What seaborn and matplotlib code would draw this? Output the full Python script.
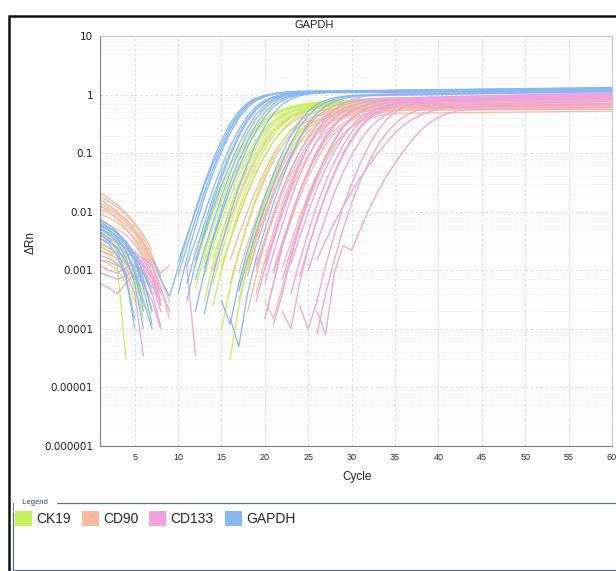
import numpy as np
import pandas as pd
import seaborn as sns
import matplotlib.pyplot as plt
from matplotlib.patches import Patch, Rectangle
from matplotlib.ticker import FixedLocator, LogLocator, NullFormatter

targets = ["CK19", "CD90", "CD133", "GAPDH"]
colors = ["#c8ef5c", "#f8b9a0", "#efa2de", "#88b8f2"]

ytick_vals = [1e-6, 1e-5, 1e-4, 1e-3, 1e-2, 1e-1, 1, 10]
ytick_labels = ["0.000001", "0.00001", "0.0001", "0.001", "0.01", "0.1", "1", "10"]

# early cycles (cycle 1 onwards), before the baseline-corrected signal drops below zero
ck19_base = [
    [0.004, 0.0032, 0.0024, 0.0015, 0.0008, 0.0003],
    [0.003, 0.0025, 0.0018, 0.0011, 0.0005, 0.00015],
    [0.005, 0.004, 0.003, 0.0019, 0.001, 0.0004],
    [0.0022, 0.0018, 0.0012, 0.00003],
    [0.0035, 0.003, 0.0022, 0.0014, 0.0007, 0.00025, 0.00018],
    [0.0015, 0.0013, 0.001, 0.0006, 0.0003],
    [0.0042, 0.0035, 0.0027, 0.0018, 0.0011, 0.0006, 0.0002],
    [0.0026, 0.0021, 0.0015, 0.0009, 0.0004, 0.0002],
]
cd90_base = [
    [0.018, 0.015, 0.012, 0.009, 0.006, 0.0035, 0.0018, 0.0008],
    [0.021, 0.017, 0.013, 0.0095, 0.0065, 0.004, 0.0022],
    [0.014, 0.012, 0.0095, 0.0072, 0.005, 0.003, 0.0016, 0.0007, 0.0003],
    [0.011, 0.0095, 0.0078, 0.006, 0.0042, 0.0025, 0.0012, 0.0004],
    [0.009, 0.008, 0.0065, 0.005, 0.0035, 0.0022, 0.0011],
    [0.016, 0.013, 0.01, 0.0075, 0.005, 0.0028, 0.0013, 0.0005, 0.00015],
    [0.007, 0.006, 0.005, 0.004, 0.0028, 0.0017, 0.0008, 0.00025],
    [0.012, 0.011, 0.0088, 0.0066, 0.0045, 0.0028, 0.0015, 0.0009, 0.0012],
    [0.0055, 0.0048, 0.004, 0.003, 0.002, 0.0011, 0.0004],
    [0.0045, 0.004, 0.0032, 0.0024, 0.0015, 0.0007, 0.0002],
    [0.013, 0.01, 0.0075, 0.0052, 0.0033, 0.0019, 0.0009, 0.0003],
    [0.0025, 0.0022, 0.0018, 0.0013, 0.0008, 0.0003],
]
cd133_base = [
    [0.0022, 0.0019, 0.0016, 0.0014, 0.0012, 0.001, 0.0006, 0.0002],
    [0.0012, 0.001, 0.0009, 0.0011, 0.0013, 0.0009, 0.0004, 0.00011],
    [0.0035, 0.003, 0.0025, 0.002, 0.0016, 0.0012, 0.0007],
    [0.0006, 0.0005, 0.0004, 0.0006, 0.0009, 0.0012, 0.0008, 0.0003],
    [0.0018, 0.0016, 0.0013, 0.0009, 0.0004, 0.000035],
    [0.0028, 0.0024, 0.002, 0.0017, 0.0021, 0.0015, 0.0009, 0.0004],
    [0.0009, 0.0008, 0.0007, 0.0008, 0.0011, 0.0016, 0.0012, 0.0005, 0.0002],
    [0.0015, 0.0014, 0.0012, 0.001, 0.0008, 0.0006, 0.0003, 0.0001],
    [0.0042, 0.0036, 0.003, 0.0024, 0.0019, 0.0013, 0.0007, 0.00025],
]
gapdh_base = [
    [0.0075, 0.006, 0.0045, 0.003, 0.0017, 0.0007, 0.0002],
    [0.006, 0.005, 0.0036, 0.0022, 0.001, 0.0003, 0.0001],
    [0.005, 0.0042, 0.003, 0.0016, 0.0006, 0.0001],
    [0.0068, 0.0055, 0.0042, 0.0028, 0.0015, 0.0006],
    [0.0045, 0.0035, 0.0022, 0.0008, 0.0001],
    [0.0058, 0.0048, 0.0038, 0.0026, 0.0014, 0.0005, 0.00012],
    [0.004, 0.0032, 0.0024, 0.0014, 0.0007, 0.0009, 0.0004],
    [0.0035, 0.0028, 0.0018, 0.0007, 0.00015],
    [0.0062, 0.0053, 0.0043, 0.0031, 0.0019, 0.0009, 0.0005],
    [0.0052, 0.0044, 0.0034, 0.0021, 0.0009, 0.0002],
]

# amplification: first plotted cycle, value at each following cycle, value at cycle 60
ck19_start = [12, 12, 13, 13, 13, 14, 14, 15, 15, 16, 12, 14, 17, 18]
ck19_rise = [
    [1.2e-3, 3.5e-3, 9.5e-3, 0.023, 0.05, 0.095, 0.165, 0.26, 0.36, 0.45, 0.53, 0.60, 0.65, 0.69, 0.72, 0.75, 0.77],
    [5e-4, 1.8e-3, 5.5e-3, 0.015, 0.036, 0.075, 0.14, 0.23, 0.33, 0.43, 0.51, 0.58, 0.63, 0.67, 0.70, 0.73, 0.75],
    [1.4e-3, 3.8e-3, 0.010, 0.024, 0.051, 0.097, 0.17, 0.26, 0.36, 0.45, 0.53, 0.59, 0.64, 0.68, 0.71, 0.74, 0.76],
    [8e-4, 2.5e-3, 7e-3, 0.018, 0.041, 0.082, 0.15, 0.24, 0.34, 0.43, 0.51, 0.57, 0.62, 0.66, 0.70, 0.72, 0.74],
    [3e-4, 1.2e-3, 4e-3, 0.012, 0.03, 0.066, 0.125, 0.21, 0.31, 0.41, 0.50, 0.57, 0.62, 0.66, 0.69, 0.72, 0.74],
    [1.6e-3, 4.2e-3, 0.011, 0.026, 0.054, 0.10, 0.17, 0.26, 0.36, 0.45, 0.52, 0.58, 0.63, 0.67, 0.70, 0.73, 0.75],
    [6e-4, 2e-3, 6e-3, 0.016, 0.038, 0.078, 0.145, 0.235, 0.335, 0.43, 0.51, 0.57, 0.62, 0.66, 0.69, 0.72, 0.74],
    [1.2e-3, 3.4e-3, 9e-3, 0.022, 0.048, 0.092, 0.16, 0.25, 0.35, 0.44, 0.52, 0.58, 0.63, 0.67, 0.70, 0.72, 0.74],
    [1e-4, 5e-4, 2e-3, 6.5e-3, 0.018, 0.042, 0.088, 0.16, 0.25, 0.35, 0.44, 0.52, 0.58, 0.63, 0.67, 0.70, 0.72],
    [3e-5, 2.5e-4, 1.2e-3, 4.5e-3, 0.014, 0.036, 0.078, 0.15, 0.24, 0.34, 0.43, 0.51, 0.57, 0.62, 0.66, 0.69, 0.71],
    [2e-3, 5e-3, 0.013, 0.03, 0.062, 0.115, 0.19, 0.29, 0.39, 0.48, 0.56, 0.62, 0.67, 0.71, 0.74, 0.77, 0.79],
    [2.5e-4, 1e-3, 3.5e-3, 0.011, 0.028, 0.062, 0.12, 0.205, 0.305, 0.40, 0.49, 0.56, 0.61, 0.65, 0.69, 0.72, 0.74],
    [5e-4, 1.8e-3, 5.5e-3, 0.015, 0.036, 0.074, 0.135, 0.22, 0.32, 0.42, 0.50, 0.57, 0.62, 0.66, 0.69, 0.71],
    [1e-3, 2.8e-3, 7.5e-3, 0.019, 0.042, 0.082, 0.145, 0.23, 0.33, 0.42, 0.50, 0.56, 0.61, 0.65, 0.68],
]
ck19_end = [0.95, 0.92, 0.93, 0.9, 0.9, 0.88, 0.87, 0.85, 0.88, 0.86, 0.97, 0.9, 0.84, 0.82]

cd90_start = [15, 16, 16, 17, 17, 18, 18, 19, 19, 20, 20, 21, 20, 14, 22]
cd90_rise = [
    [1.1e-3, 3.2e-3, 8.5e-3, 0.021, 0.046, 0.09, 0.16, 0.24, 0.33, 0.40, 0.46, 0.51, 0.55, 0.58, 0.61, 0.63, 0.65],
    [6e-4, 2e-3, 6e-3, 0.016, 0.037, 0.075, 0.135, 0.21, 0.29, 0.36, 0.42, 0.47, 0.51, 0.54, 0.57, 0.59, 0.61],
    [1.5e-3, 4e-3, 0.010, 0.024, 0.05, 0.095, 0.16, 0.24, 0.32, 0.39, 0.45, 0.50, 0.54, 0.57, 0.60, 0.62, 0.64],
    [9e-4, 2.8e-3, 7.5e-3, 0.019, 0.042, 0.082, 0.145, 0.22, 0.30, 0.37, 0.43, 0.48, 0.52, 0.55, 0.57, 0.59, 0.61],
    [3e-4, 1.1e-3, 3.8e-3, 0.011, 0.028, 0.06, 0.115, 0.19, 0.27, 0.35, 0.42, 0.47, 0.51, 0.54, 0.57, 0.59, 0.61],
    [1.2e-3, 3.4e-3, 9e-3, 0.022, 0.047, 0.09, 0.155, 0.235, 0.32, 0.39, 0.45, 0.50, 0.54, 0.57, 0.60, 0.62, 0.63],
    [2e-4, 8e-4, 3e-3, 9e-3, 0.024, 0.054, 0.105, 0.18, 0.26, 0.34, 0.41, 0.47, 0.51, 0.55, 0.57, 0.59, 0.61],
    [1e-3, 3e-3, 8e-3, 0.02, 0.044, 0.085, 0.15, 0.23, 0.31, 0.38, 0.44, 0.49, 0.52, 0.55, 0.57, 0.59, 0.60],
    [4e-4, 1.5e-3, 4.8e-3, 0.014, 0.034, 0.07, 0.13, 0.21, 0.29, 0.36, 0.42, 0.47, 0.51, 0.54, 0.56, 0.58, 0.59],
    [1.3e-3, 3.6e-3, 9.5e-3, 0.023, 0.049, 0.092, 0.155, 0.235, 0.315, 0.385, 0.44, 0.49, 0.53, 0.56, 0.58, 0.60],
    [1.5e-4, 6e-4, 2.5e-3, 8e-3, 0.021, 0.048, 0.095, 0.165, 0.245, 0.32, 0.39, 0.44, 0.48, 0.51, 0.54, 0.56],
    [9e-4, 2.6e-3, 7e-3, 0.018, 0.04, 0.078, 0.14, 0.215, 0.29, 0.36, 0.41, 0.46, 0.49, 0.52, 0.54],
    [3e-4, 1.5e-4, 5e-4, 1.8e-3, 5.5e-3, 0.015, 0.035, 0.072, 0.13, 0.21, 0.29, 0.36, 0.42, 0.47, 0.51, 0.54, 0.56],
    [1e-3, 2.8e-3, 7.5e-3, 0.019, 0.043, 0.085, 0.15, 0.235, 0.32, 0.40, 0.47, 0.53, 0.58, 0.62, 0.65, 0.68, 0.70],
    [1.1e-3, 3e-3, 8e-3, 0.02, 0.043, 0.082, 0.14, 0.21, 0.28, 0.34, 0.39, 0.43, 0.46, 0.48],
]
cd90_end = [0.8, 0.76, 0.82, 0.72, 0.7, 0.78, 0.68, 0.66, 0.64, 0.7, 0.6, 0.56, 0.62, 0.86, 0.52]

cd133_start = [18, 19, 19, 20, 20, 21, 21, 22, 22, 23, 23, 24, 25, 26, 26, 26, 20, 24, 11]
cd133_rise = [
    [8e-4, 2.6e-3, 7.5e-3, 0.02, 0.047, 0.096, 0.175, 0.29, 0.42, 0.54, 0.64, 0.72, 0.78, 0.82, 0.85],
    [1.2e-3, 3.5e-3, 9.5e-3, 0.024, 0.053, 0.105, 0.19, 0.30, 0.43, 0.55, 0.65, 0.73, 0.79, 0.83, 0.86],
    [3e-4, 1.1e-3, 3.8e-3, 0.011, 0.029, 0.066, 0.13, 0.23, 0.35, 0.47, 0.58, 0.66, 0.72, 0.77, 0.80],
    [6e-4, 2e-3, 6e-3, 0.017, 0.041, 0.088, 0.165, 0.275, 0.40, 0.52, 0.62, 0.70, 0.76, 0.80, 0.83],
    [1.5e-4, 6e-4, 2.5e-3, 8e-3, 0.022, 0.052, 0.11, 0.2, 0.31, 0.43, 0.54, 0.63, 0.70, 0.75, 0.79],
    [1e-3, 3e-3, 8.5e-3, 0.022, 0.05, 0.1, 0.18, 0.29, 0.41, 0.52, 0.61, 0.68, 0.73, 0.77, 0.80],
    [1.2e-4, 4e-4, 1.6e-3, 5.5e-3, 0.016, 0.04, 0.088, 0.17, 0.28, 0.40, 0.51, 0.60, 0.67, 0.72, 0.76],
    [7e-4, 2.2e-3, 6.5e-3, 0.018, 0.042, 0.088, 0.16, 0.27, 0.39, 0.50, 0.59, 0.66, 0.71, 0.75],
    [2e-4, 1e-4, 6e-4, 2.4e-3, 7.5e-3, 0.02, 0.047, 0.098, 0.18, 0.29, 0.41, 0.52, 0.61, 0.68, 0.73, 0.77],
    [1.3e-3, 3.7e-3, 0.01, 0.025, 0.055, 0.105, 0.185, 0.29, 0.40, 0.50, 0.58, 0.65, 0.70, 0.74],
    [4e-4, 1.4e-3, 4.5e-3, 0.013, 0.032, 0.07, 0.135, 0.23, 0.35, 0.46, 0.56, 0.64, 0.70, 0.74],
    [8e-4, 2.5e-3, 7e-3, 0.019, 0.044, 0.09, 0.165, 0.27, 0.38, 0.48, 0.57, 0.64, 0.69],
    [1e-3, 2.9e-3, 8e-3, 0.021, 0.047, 0.093, 0.165, 0.26, 0.36, 0.46, 0.54, 0.60, 0.65],
    [8e-5, 4e-4, 1.5e-3, 5e-3, 0.014, 0.034, 0.072, 0.135, 0.22, 0.32, 0.42, 0.5, 0.56, 0.61],
    [2e-4, 8e-5, 9e-4, 2.6e-3, 2.2e-3, 5e-3, 0.011, 0.022, 0.04, 0.068, 0.11, 0.17, 0.25, 0.33, 0.41, 0.47, 0.52, 0.55],
    [1.5e-3, 3.2e-3, 6.5e-3, 0.012, 0.022, 0.038, 0.062, 0.1, 0.15, 0.22, 0.3, 0.38, 0.45, 0.51, 0.56, 0.6],
    [1e-3, 3.2e-3, 9.5e-3, 0.026, 0.062, 0.13, 0.24, 0.39, 0.55, 0.70, 0.82, 0.91, 0.97, 1.01, 1.04],
    [2.5e-4, 1e-4, 3e-4, 1.2e-3, 4e-3, 0.012, 0.03, 0.068, 0.135, 0.24, 0.37, 0.50, 0.61, 0.69, 0.75],
    [1.2e-3, 3.5e-5],
]
cd133_end = [1.05, 1.08, 1.0, 1.02, 0.98, 0.95, 0.92, 0.9, 0.93, 0.88, 0.86, 0.82, 0.76, 0.7, 0.6, 0.68, 1.15, 0.9, None]

gapdh_start = [10, 10, 11, 11, 11, 12, 12, 12, 13, 7, 15, 16, 17, 13, 10]
gapdh_rise = [
    [8e-4, 2.5e-3, 7.5e-3, 0.021, 0.054, 0.12, 0.25, 0.44, 0.65, 0.83, 0.95, 1.03, 1.08, 1.11, 1.13],
    [4e-4, 1.6e-3, 5.5e-3, 0.017, 0.045, 0.105, 0.22, 0.40, 0.60, 0.79, 0.92, 1.01, 1.06, 1.09, 1.11],
    [1.2e-3, 3.2e-3, 9e-3, 0.024, 0.058, 0.13, 0.25, 0.43, 0.63, 0.80, 0.92, 1.0, 1.05, 1.08, 1.10],
    [6e-4, 2e-3, 6e-3, 0.017, 0.045, 0.10, 0.21, 0.38, 0.58, 0.77, 0.90, 0.98, 1.04, 1.07, 1.09],
    [3e-4, 1.3e-3, 4.5e-3, 0.014, 0.038, 0.09, 0.19, 0.35, 0.55, 0.74, 0.88, 0.97, 1.03, 1.06, 1.08],
    [1.5e-3, 4e-3, 0.011, 0.028, 0.065, 0.14, 0.27, 0.46, 0.66, 0.83, 0.94, 1.01, 1.06, 1.09, 1.11],
    [7e-4, 2.2e-3, 6.5e-3, 0.018, 0.046, 0.105, 0.22, 0.39, 0.59, 0.78, 0.91, 0.99, 1.04, 1.07, 1.09],
    [2e-4, 9e-4, 3.5e-3, 0.011, 0.031, 0.075, 0.16, 0.31, 0.50, 0.70, 0.85, 0.95, 1.01, 1.05, 1.07],
    [1.1e-3, 3.2e-3, 9e-3, 0.024, 0.057, 0.125, 0.24, 0.42, 0.62, 0.79, 0.91, 0.99, 1.04, 1.07, 1.09],
    [1.6e-3, 7e-4, 3.6e-4, 1.1e-3, 3.5e-3, 0.011, 0.03, 0.075, 0.165, 0.32, 0.52, 0.72, 0.87, 0.97, 1.03, 1.07, 1.10, 1.12],
    [3e-4, 1.2e-4, 6e-4, 2.2e-3, 6.5e-3, 0.018, 0.045, 0.10, 0.2, 0.35, 0.52, 0.68, 0.80, 0.88, 0.93, 0.97],
    [1.5e-4, 5e-5, 4e-4, 1.6e-3, 5e-3, 0.014, 0.036, 0.085, 0.18, 0.32, 0.48, 0.63, 0.76, 0.85, 0.91, 0.95],
    [4.4e-4, 1.5e-3, 4.5e-3, 0.012, 0.03, 0.07, 0.15, 0.28, 0.44, 0.60, 0.73, 0.83, 0.90, 0.95, 0.98],
    [1.8e-4, 8e-4, 2.8e-3, 9e-3, 0.026, 0.065, 0.15, 0.29, 0.48, 0.68, 0.84, 0.95, 1.02, 1.06, 1.09],
    [1.4e-3, 3.8e-3, 0.010, 0.027, 0.065, 0.14, 0.28, 0.48, 0.68, 0.85, 0.96, 1.04, 1.09, 1.12, 1.14],
]
gapdh_end = [1.28, 1.25, 1.22, 1.2, 1.18, 1.24, 1.2, 1.16, 1.22, 1.3, 1.15, 1.12, 1.15, 1.26, 1.32]

rows = []


def add_target(name, base, start, rise, end):
    for i, vals in enumerate(base):
        for j, v in enumerate(vals):
            rows.append((name, f"{name}-b{i}", j + 1, v))
    for i, (s, vals, e) in enumerate(zip(start, rise, end)):
        for j, v in enumerate(vals):
            rows.append((name, f"{name}-a{i}", s + j, v))
        if e is not None:
            rows.append((name, f"{name}-a{i}", 60, e))


add_target("CD90", cd90_base, cd90_start, cd90_rise, cd90_end)
add_target("CK19", ck19_base, ck19_start, ck19_rise, ck19_end)
add_target("CD133", cd133_base, cd133_start, cd133_rise, cd133_end)
add_target("GAPDH", gapdh_base, gapdh_start, gapdh_rise, gapdh_end)
df = pd.DataFrame(rows, columns=["target", "well", "cycle", "drn"])

sns.set_style("white")
plt.rcParams["font.family"] = ["Liberation Sans", "DejaVu Sans"]

fig = plt.figure(figsize=(6.16, 5.71), dpi=100)
ax = fig.add_axes([100 / 616, 1 - 446 / 571, 512 / 616, 410 / 571])

sns.lineplot(data=df, x="cycle", y="drn", hue="target", units="well", estimator=None,
             hue_order=["CD90", "CK19", "CD133", "GAPDH"],
             palette=dict(zip(targets, colors)), linewidth=0.9, legend=False, ax=ax)

ax.set_yscale("log")
ax.set_xlim(1, 60)
ax.set_ylim(1e-6, 10)
ax.set_xticks(range(5, 61, 5))
ax.set_xticklabels([str(v) for v in range(5, 61, 5)], fontsize=6.5, color="#333333")
ax.yaxis.set_major_locator(FixedLocator(ytick_vals))
ax.set_yticklabels(ytick_labels, fontsize=7.5, color="#222222", family="DejaVu Sans")
ax.yaxis.set_minor_locator(LogLocator(base=10, subs=np.arange(2, 10)))
ax.yaxis.set_minor_formatter(NullFormatter())
ax.tick_params(which="major", length=3, width=0.6, color="#888888", pad=2)
ax.tick_params(which="minor", length=0)
ax.set_xlabel("")
ax.set_ylabel("")

ax.grid(which="major", axis="both", color="#d6d6d6", linestyle=(0, (3, 3)), linewidth=0.6)
ax.grid(which="minor", axis="y", color="#dadada", linestyle=(0, (1, 2)), linewidth=0.5)
for side in ["left", "bottom"]:
    ax.spines[side].set_color("#808080")
    ax.spines[side].set_linewidth(0.8)
for side in ["top", "right"]:
    ax.spines[side].set_color("#c8c8c8")
    ax.spines[side].set_linewidth(0.8)

fig.text(314 / 616, 1 - 25 / 571, "GAPDH", ha="center", va="center", fontsize=8)
fig.text(357 / 616, 1 - 477 / 571, "Cycle", ha="center", va="center", fontsize=8.5)
fig.text(31 / 616, 1 - 242 / 571, "ΔRn", ha="center", va="center", fontsize=8.5, rotation=90)

# outer frame and legend panel
fig.patches.append(Rectangle((8.5 / 616, -0.05), 1.0, 1 - 15.5 / 571 + 0.05, transform=fig.transFigure,
                             fill=False, edgecolor="#111111", linewidth=1.8))
fig.patches.append(Rectangle((13 / 616, 1 - 570 / 571), 1.0, 67 / 571, transform=fig.transFigure,
                             fill=False, edgecolor="#56728c", linewidth=0.9))
fig.text(20 / 616, 1 - 503 / 571, " Legend ", ha="left", va="center", fontsize=5.5,
         color="#2c4c7c", backgroundcolor="white")

handles = [Patch(facecolor=c, edgecolor="none") for c in colors]
fig.legend(handles, targets, loc="upper left", bbox_to_anchor=(15 / 616, 1 - 511 / 571), ncol=4,
           frameon=False, fontsize=10, borderpad=0, borderaxespad=0, handlelength=1.22,
           handleheight=1.3, handletextpad=0.3, columnspacing=0.8)

fig.savefig("out.png", dpi=100)
